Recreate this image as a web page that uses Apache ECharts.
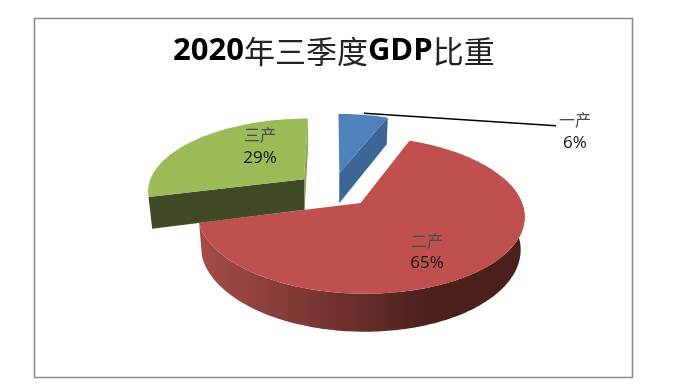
<!DOCTYPE html>
<html>
<head>
<meta charset="utf-8">
<style>html,body{margin:0;padding:0;background:#fff}#c{width:696px;height:389px}</style>
<script src="https://cdn.jsdelivr.net/npm/echarts@6/dist/echarts.min.js"></script>
</head>
<body>
<div id="c"></div>
<script>
const categories = ['一产', '二产', '三产'];
const shareValues = [6, 65, 29];
const topColors = ['#4F81BD', '#C0504D', '#9BBB59'];
const titleParts = ['2020', '年三季度', 'GDP', '比重'];

// perspective model of the tilted pie (layout, not data)
const VIEW = {cx: 335, cy: 189.6, d: 157, c: 72.6, p: 0.15, h: 31.3, q: 0.02, explode: 0.24};
const NUDGE_X = [-2.5, 0, -1.8];
const LABELS = [
  {x: 575, y1: 120, y2: 143},
  {x: 427, y1: 241, y2: 263},
  {x: 260, y1: 135, y2: 158}
];
const ORDER = [2, 4, 6];

function project(x, y, z, nudge) {
  const w = 1 + VIEW.p * y;
  return [VIEW.cx + nudge + VIEW.d * x / (w + VIEW.q * z), VIEW.cy + (-VIEW.c * y + VIEW.h * z) / w];
}
const rad = a => a * Math.PI / 180;

const total = shareValues.reduce((a, b) => a + b, 0);
let acc = 0;
const slices = shareValues.map((v, i) => {
  const start = acc / total * 360;
  acc += v;
  const end = acc / total * 360;
  const mid = (start + end) / 2;
  return {start, end, nudge: NUDGE_X[i], ox: VIEW.explode * Math.sin(rad(mid)), oy: VIEW.explode * Math.cos(rad(mid))};
});
function edge(s, a, z) { return project(s.ox + Math.sin(rad(a)), s.oy + Math.cos(rad(a)), z, s.nudge); }
function hub(s, z) { return project(s.ox, s.oy, z, s.nudge); }
function arc(s, a0, a1, z) {
  const pts = [];
  const n = Math.max(2, Math.ceil(Math.abs(a1 - a0)));
  for (let i = 0; i <= n; i++) pts.push(edge(s, a0 + (a1 - a0) * i / n, z));
  return pts;
}
function poly(points, fill, z2) {
  return {type: 'polygon', shape: {points}, style: {fill}, z2, silent: true};
}
function sideQuad(s, a, fill, z2) {
  return poly([hub(s, 0), edge(s, a, 0), edge(s, a, 1), hub(s, 1)], fill, z2);
}
function renderSlice(params) {
  const i = params.dataIndex;
  const s = slices[i];
  const base = ORDER[i] * 10;
  const kids = [];
  if (i === 1) {
    const grad = new echarts.graphic.LinearGradient(199, 0, 432, 0, [
      {offset: 0, color: '#A54C49'},
      {offset: 0.5, color: '#7A3633'},
      {offset: 1, color: '#4A1F1C'}
    ], true);
    kids.push(poly(arc(s, 70, s.end, 0).concat(arc(s, s.end, 70, 1)), grad, base));
  }
  if (i === 0) kids.push(sideQuad(s, s.end, '#3D6596', base + 1));
  if (i === 2) {
    kids.push(sideQuad(s, s.end, '#8BA84F', base));
    kids.push(sideQuad(s, s.start, '#404A24', base + 1));
  }
  kids.push(poly([hub(s, 0)].concat(arc(s, s.start, s.end, 0)), topColors[i], base + 2));
  const L = LABELS[i];
  kids.push({type: 'text', z2: 100, silent: true, style: {
    x: L.x, y: L.y1, text: categories[i], align: 'center', verticalAlign: 'middle',
    fontFamily: '"Noto Sans CJK SC"', fontSize: 16, fill: '#4a4a4a'}});
  kids.push({type: 'text', z2: 100, silent: true, style: {
    x: L.x, y: L.y2, text: shareValues[i] + '%', align: 'center', verticalAlign: 'middle',
    fontFamily: '"Open Sans"', fontSize: 17, fill: '#111'}});
  return {type: 'group', children: kids};
}

const chart = echarts.init(document.getElementById('c'), null, {renderer: 'canvas'});
chart.setOption({
  animation: false,
  backgroundColor: '#fff',
  title: {
    text: '{a|' + titleParts[0] + '}{b|' + titleParts[1] + '}{a|' + titleParts[2] + '}{b|' + titleParts[3] + '}',
    left: 173, top: 36, padding: 0,
    textStyle: {rich: {
      a: {fontFamily: '"Open Sans"', fontWeight: 'bold', fontSize: 31, color: '#000'},
      b: {fontFamily: '"Noto Sans CJK SC"', fontWeight: 'normal', fontSize: 31, color: '#222'}
    }}
  },
  graphic: [
    {type: 'rect', z: -1, silent: true, shape: {x: 34.5, y: 18.5, width: 598, height: 359},
     style: {fill: '#fff', stroke: '#8C8C8C', lineWidth: 1.6}},
    {type: 'line', z: 50, silent: true, shape: {x1: 364, y1: 113.3, x2: 556, y2: 125.7},
     style: {stroke: '#000', lineWidth: 1.6}}
  ],
  series: [{
    type: 'custom',
    coordinateSystem: 'none',
    renderItem: renderSlice,
    data: shareValues,
    silent: true
  }]
});
</script>
</body>
</html>
